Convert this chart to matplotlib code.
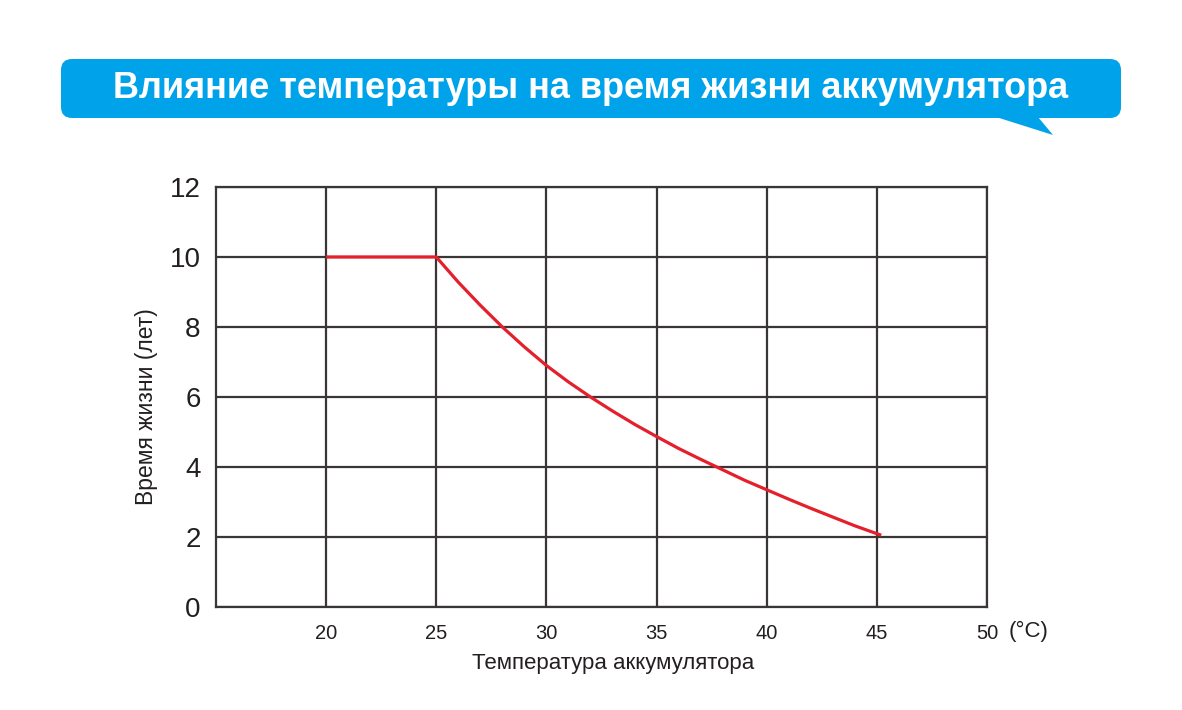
import matplotlib.pyplot as plt
from matplotlib.patches import FancyBboxPatch, Polygon

plt.rcParams["font.family"] = ["Liberation Sans", "DejaVu Sans"]

# данные
temperatura = [20, 25, 26, 27, 28, 29, 30, 31, 32, 33, 34, 35, 36, 37,
               38, 39, 40, 41, 42, 43, 44, 45.2]
vremya_zhizni = [10, 10, 9.28, 8.62, 8.0, 7.43, 6.9, 6.43, 6.0, 5.6, 5.22,
                 4.87, 4.53, 4.22, 3.92, 3.62, 3.35, 3.08, 2.82, 2.57, 2.32, 2.05]
x_metki = [20, 25, 30, 35, 40, 45, 50]
y_metki = [0, 2, 4, 6, 8, 10, 12]

nazvanie = "Влияние температуры на время жизни аккумулятора"

fig = plt.figure(figsize=(11.82, 7.10), dpi=100)

# синяя плашка с заголовком
fon = fig.add_axes([0, 0, 1, 1])
fon.set_xlim(0, 1182)
fon.set_ylim(710, 0)
fon.axis("off")
plashka = FancyBboxPatch(
    (61, 59), 1060, 59,
    boxstyle="round,pad=0,rounding_size=11",
    facecolor="#00A3E9", edgecolor="none"
)
fon.add_patch(plashka)
hvost = Polygon([(996, 117), (1053, 135), (1038, 117)],
                closed=True, facecolor="#00A3E9", edgecolor="none")
fon.add_patch(hvost)
fon.text(591, 88, nazvanie, color="white", fontsize=26,
         fontweight="bold", ha="center", va="center")

ax = fig.add_axes([216 / 1182, 1 - 607 / 710, (987 - 216) / 1182, (607 - 187) / 710])

ax.plot(temperatura, vremya_zhizni, color="#E3202B", linewidth=2.3,
        solid_capstyle="butt", zorder=3)

ax.set_xlim(15, 50)
ax.set_ylim(0, 12)
ax.set_xticks(x_metki)
ax.set_yticks(y_metki)
ax.tick_params(axis="x", length=0, pad=12, labelsize=14.5, colors="#231f20")
ax.tick_params(axis="y", length=0, pad=11, labelsize=20, colors="#231f20")
ax.grid(True, color="#3a3536", linewidth=1.6)
for s in ax.spines.values():
    s.set_color("#3a3536")
    s.set_linewidth(1.6)

ax.set_xlabel("Температура аккумулятора", fontsize=16, color="#231f20")
ax.set_ylabel("Время жизни (лет)", fontsize=16.5, color="#231f20")
ax.xaxis.set_label_coords((613 - 216) / 771, -46 / 420)
ax.yaxis.set_label_coords(-58 / 771, (607 - 407) / 420)
fig.text(1029 / 1182, 1 - 631 / 710, "(°C)", fontsize=16, color="#231f20",
         ha="center", va="center")

plt.savefig("out.png", dpi=100)
plt.close()
